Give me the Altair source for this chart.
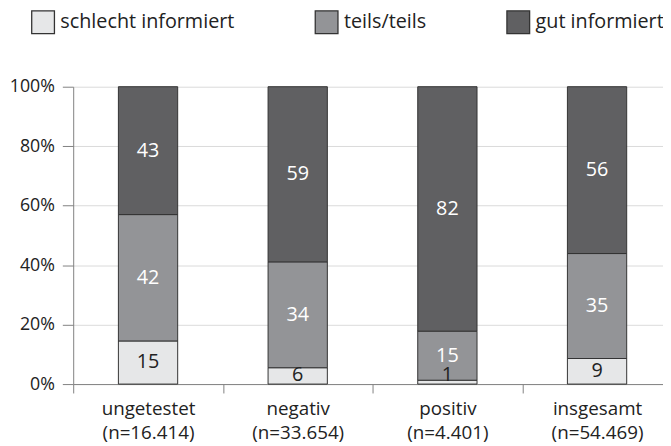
import altair as alt
import pandas as pd

categories = ["ungetestet", "negativ", "positiv", "insgesamt"]
sample_sizes = ["(n=16.414)", "(n=33.654)", "(n=4.401)", "(n=54.469)"]
levels = ["schlecht informiert", "teils/teils", "gut informiert"]
colors = ["#e6e7e8", "#939497", "#606062"]

# segment heights (percent)
share_schlecht = [14.5, 5.5, 1.3, 8.6]
share_teils = [42.5, 35.6, 16.5, 35.3]
share_gut = [43.0, 58.9, 82.2, 56.1]
# printed labels
label_schlecht = [15, 6, 1, 9]
label_teils = [42, 34, 15, 35]
label_gut = [43, 59, 82, 56]

FONT = "Open Sans"

rows = []
shares = [share_schlecht, share_teils, share_gut]
labels = [label_schlecht, label_teils, label_gut]
for i, cat in enumerate(categories):
    group = f"{cat}\n{sample_sizes[i]}"
    base = 0.0
    for j, lvl in enumerate(levels):
        s = shares[j][i]
        mid = base + s / 2
        rows.append(dict(group=group, level=lvl, order=j, share=s,
                         label=str(labels[j][i]), mid=max(mid, 3.0)))
        base += s
df = pd.DataFrame(rows)
group_order = [f"{c}\n{n}" for c, n in zip(categories, sample_sizes)]

x_scale = alt.Scale(range=[0, 606], paddingInner=0, paddingOuter=0)
x_enc = alt.X("group:N", sort=group_order, title=None, scale=x_scale,
              axis=alt.Axis(labelExpr="split(datum.label, '\\n')", labelAngle=0,
                            tickBand="extent", tickSize=9, labelPadding=7,
                            labelLineHeight=24, labelFontSize=19,
                            labelColor="#222222", labelFont=FONT,
                            domainColor="#808080", tickColor="#808080",
                            grid=False))
y_scale = alt.Scale(domain=[0, 100])

bars = alt.Chart(df).mark_bar(size=60, stroke="#333333", strokeWidth=1).encode(
    x=x_enc,
    y=alt.Y("share:Q", stack="zero", scale=y_scale, title=None,
            axis=alt.Axis(values=[0, 20, 40, 60, 80, 100],
                          labelExpr="datum.value + '%'", tickSize=11,
                          labelPadding=8, labelFontSize=18, labelFont=FONT,
                          labelColor="#222222", domainColor="#808080",
                          tickColor="#808080", gridColor="#d9d9d9")),
    color=alt.Color("level:N", scale=alt.Scale(domain=levels, range=colors),
                    legend=alt.Legend(title=None, orient="none", direction="horizontal",
                                      legendX=-43, legendY=-78, padding=0,
                                      symbolType="square", symbolSize=529,
                                      symbolStrokeColor="#333333", symbolStrokeWidth=1.3,
                                      symbolOpacity=1,
                                      labelFontSize=20, labelFont=FONT, labelColor="#222222",
                                      labelOffset=5, columnPadding=78, labelLimit=400)),
    order=alt.Order("order:Q"),
)

text_dark = alt.Chart(df).transform_filter(
    alt.datum.level == levels[0]
).mark_text(fontSize=20, font=FONT, color="#222222", baseline="middle").encode(
    x=alt.X("group:N", sort=group_order, scale=x_scale),
    y=alt.Y("mid:Q", scale=y_scale),
    text="label:N",
)
text_light = alt.Chart(df).transform_filter(
    alt.datum.level != levels[0]
).mark_text(fontSize=20, font=FONT, color="#ffffff", baseline="middle").encode(
    x=alt.X("group:N", sort=group_order, scale=x_scale),
    y=alt.Y("mid:Q", scale=y_scale),
    text="label:N",
)

chart = alt.layer(bars, text_dark, text_light).properties(
    width=597, height=301,
    autosize=alt.AutoSizeParams(type="none"),
    padding={"left": 66, "top": 77, "right": 0, "bottom": 60},
    background="white",
).configure_view(stroke=None)

chart.save("out.html", embed_options={"renderer": "svg", "actions": False})
